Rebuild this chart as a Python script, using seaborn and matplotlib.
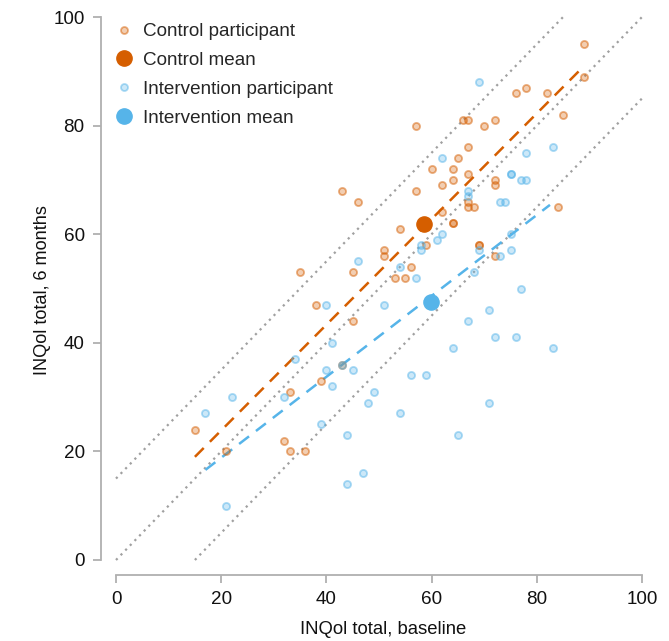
import matplotlib
matplotlib.use("Agg")
import matplotlib.pyplot as plt
import seaborn as sns
import pandas as pd
from matplotlib.lines import Line2D

# Control participants: baseline vs 6 months
control_baseline = [89, 89, 85, 82, 78, 76, 72, 70, 67, 66, 57, 67, 65, 60, 64, 67, 64, 62,
                    57, 72, 72, 67, 67, 68, 62, 64, 64, 84, 59, 69, 69, 72, 54, 51, 51, 56,
                    53, 55, 43, 46, 35, 45, 38, 45, 43, 39, 33, 15, 32, 33, 36, 21]
control_6m = [95, 89, 82, 86, 87, 86, 81, 80, 81, 81, 80, 76, 74, 72, 72, 71, 70, 69,
              68, 70, 69, 66, 65, 65, 64, 62, 62, 65, 58, 58, 58, 56, 61, 57, 56, 54,
              52, 52, 68, 66, 53, 53, 47, 44, 36, 33, 31, 24, 22, 20, 20, 20]

# Intervention participants
interv_baseline = [69, 62, 78, 83, 75, 75, 77, 78, 67, 67, 73, 74, 62, 61, 58, 58, 69, 73,
                   75, 75, 54, 57, 68, 77, 71, 67, 72, 76, 64, 83, 56, 59, 71, 54, 65, 46,
                   40, 51, 41, 34, 43, 45, 40, 41, 49, 48, 32, 22, 17, 39, 44, 44, 47, 21]
interv_6m = [88, 74, 75, 76, 71, 71, 70, 70, 68, 67, 66, 66, 60, 59, 58, 57, 57, 56,
             60, 57, 54, 52, 53, 50, 46, 44, 41, 41, 39, 39, 34, 34, 29, 27, 23, 55,
             47, 47, 40, 37, 36, 35, 35, 32, 31, 29, 30, 30, 27, 25, 23, 14, 16, 10]

# Group means
control_mean = (58.6, 61.8)
interv_mean = (59.8, 47.5)

# Fitted lines (endpoints)
control_fit_x = [15, 89]
control_fit_y = [19, 91]
interv_fit_x = [17, 82.5]
interv_fit_y = [16.6, 65.4]

# Reference lines y = x + offset
ref_offsets = [15, 0, -15]

ticks = [0, 20, 40, 60, 80, 100]

ORANGE = "#D55E00"
BLUE = "#56B4E9"
ORANGE_FACE = (0.835, 0.37, 0.0, 0.3)
ORANGE_EDGE = (0.835, 0.37, 0.0, 0.5)
BLUE_FACE = (0.337, 0.706, 0.914, 0.3)
BLUE_EDGE = (0.337, 0.706, 0.914, 0.5)
FS = 13.6

sns.set_style("white")
plt.rcParams["font.family"] = ["Liberation Sans", "DejaVu Sans"]

fig = plt.figure(figsize=(6.69, 6.41), dpi=100)
ax = fig.add_axes([116 / 669, 81 / 641, 526 / 669, 543 / 641])

# reference dotted lines
for off in ref_offsets:
    x0 = max(0, -off)
    x1 = min(100, 100 - off)
    ax.plot([x0, x1], [x0 + off, x1 + off], linestyle=(0, (1, 2)), color="#a0a0a0",
            linewidth=1.6, zorder=1, clip_on=False)

control_df = pd.DataFrame({"baseline": control_baseline, "six": control_6m})
interv_df = pd.DataFrame({"baseline": interv_baseline, "six": interv_6m})

sns.scatterplot(data=control_df, x="baseline", y="six", ax=ax, s=26,
                facecolor=ORANGE_FACE, edgecolor=ORANGE_EDGE,
                linewidth=1.3, zorder=3, legend=False)
sns.scatterplot(data=interv_df, x="baseline", y="six", ax=ax, s=26,
                facecolor=BLUE_FACE, edgecolor=BLUE_EDGE,
                linewidth=1.3, zorder=3, legend=False)

ax.plot(control_fit_x, control_fit_y, linestyle=(0, (5, 3.5)), color=ORANGE, linewidth=1.8, zorder=2)
ax.plot(interv_fit_x, interv_fit_y, linestyle=(0, (5, 3.5)), color=BLUE, linewidth=1.8, zorder=2)

ax.scatter([control_mean[0]], [control_mean[1]], s=120, color=ORANGE, zorder=4)
ax.scatter([interv_mean[0]], [interv_mean[1]], s=120, color=BLUE, zorder=4)

ax.set_xlim(0, 100)
ax.set_ylim(0, 100)
ax.set_xticks(ticks)
ax.set_yticks(ticks)

for side in ["top", "right"]:
    ax.spines[side].set_visible(False)
for side in ["left", "bottom"]:
    ax.spines[side].set_position(("outward", 11))
    ax.spines[side].set_bounds(0, 100)
    ax.spines[side].set_color("#b0b0b0")
    ax.spines[side].set_linewidth(1.3)

ax.tick_params(axis="both", direction="out", length=5.5, width=1.3, color="#b0b0b0",
               labelsize=FS, labelcolor="#111111", pad=6, left=True, bottom=True)
ax.set_xlabel("INQol total, baseline", fontsize=13.3, color="#111111")
ax.set_ylabel("INQol total, 6 months", fontsize=13.1, color="#111111")
ax.xaxis.set_label_coords(0.508, -0.113)
ax.yaxis.set_label_coords(-0.124, 0.497)

handles = [
    Line2D([], [], linestyle="none", marker="o", markersize=5,
           markerfacecolor=ORANGE_FACE, markeredgecolor=ORANGE_EDGE, markeredgewidth=1.3),
    Line2D([], [], linestyle="none", marker="o", markersize=11, color=ORANGE),
    Line2D([], [], linestyle="none", marker="o", markersize=5,
           markerfacecolor=BLUE_FACE, markeredgecolor=BLUE_EDGE, markeredgewidth=1.3),
    Line2D([], [], linestyle="none", marker="o", markersize=11, color=BLUE),
]
labels = ["Control participant", "Control mean", "Intervention participant", "Intervention mean"]
ax.legend(handles, labels, loc="upper left", bbox_to_anchor=(-0.02, 1.003), frameon=False,
          fontsize=FS, handlelength=1.2, handletextpad=0.4, labelspacing=0.62,
          borderaxespad=0)

fig.savefig("out.png", dpi=100)
